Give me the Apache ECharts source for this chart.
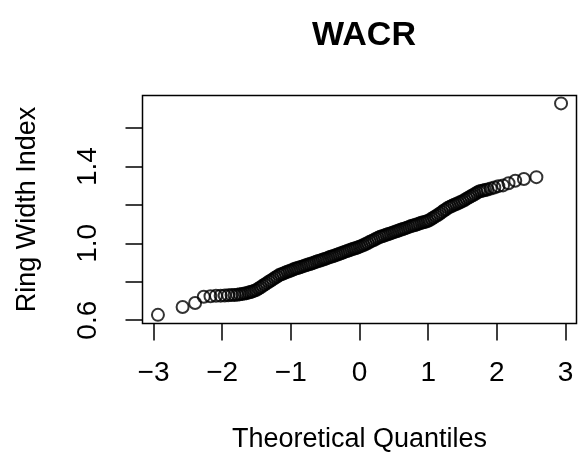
<!DOCTYPE html>
<html><head><meta charset="utf-8">
<script src="https://cdn.jsdelivr.net/npm/echarts@6/dist/echarts.min.js"></script>
<style>html,body{margin:0;padding:0;background:#fff}#c{width:581px;height:461px}</style>
</head><body><div id="c"></div>
<script>
const chartTitle = 'WACR';
const xName = 'Theoretical Quantiles';
const yName = 'Ring Width Index';
const xTicks = [-3, -2, -1, 0, 1, 2, 3];
const yTicks = [0.6, 0.8, 1.0, 1.2, 1.4, 1.6];
const yTickLabels = [0.6, 1.0, 1.4];

const qTheoretical = [
  -2.935, -2.576, -2.394, -2.268, -2.170, -2.090, -2.022, -1.963, -1.911, -1.863,
  -1.820, -1.780, -1.743, -1.708, -1.675, -1.645, -1.615, -1.587, -1.560, -1.530, -1.500,
  -1.47, -1.44, -1.41, -1.38, -1.35, -1.32, -1.29, -1.26, -1.23, -1.20, -1.17,
  -1.14, -1.11, -1.08, -1.05, -1.02, -0.99, -0.96, -0.93,
  -0.90, -0.87, -0.84, -0.81, -0.78, -0.75, -0.72, -0.69,
  -0.66, -0.63, -0.60, -0.57, -0.54, -0.51, -0.48, -0.45,
  -0.42, -0.39, -0.36, -0.33, -0.30, -0.27, -0.24, -0.21,
  -0.18, -0.15, -0.12, -0.09, -0.06, -0.03, 0.00, 0.03,
  0.06, 0.09, 0.12, 0.15, 0.18, 0.21, 0.24, 0.27,
  0.30, 0.33, 0.36, 0.39, 0.42, 0.45, 0.48, 0.51,
  0.54, 0.57, 0.60, 0.63, 0.66, 0.69, 0.72, 0.75,
  0.78, 0.81, 0.84, 0.87, 0.90, 0.93, 0.96, 0.99,
  1.02, 1.05, 1.08, 1.11, 1.14, 1.17, 1.20, 1.23, 1.26, 1.29,
  1.32, 1.35, 1.38, 1.41, 1.44, 1.47,
  1.50, 1.53, 1.56, 1.59, 1.62, 1.65, 1.68, 1.71, 1.74,
  1.77, 1.80, 1.83,
  1.863, 1.911, 1.963, 2.022, 2.090, 2.170, 2.268, 2.394, 2.576, 2.935
];
const ringWidth = [
  0.628, 0.669, 0.690, 0.722, 0.725, 0.727, 0.728, 0.729, 0.730, 0.731,
  0.732, 0.733, 0.735, 0.737, 0.739, 0.741, 0.744, 0.747, 0.750, 0.754, 0.758,
  0.765, 0.772, 0.779, 0.786, 0.793, 0.800, 0.807, 0.814, 0.821, 0.828, 0.835,
  0.839, 0.843, 0.848, 0.852, 0.856, 0.860, 0.865, 0.869,
  0.872, 0.876, 0.879, 0.883, 0.886, 0.890, 0.893, 0.897,
  0.900, 0.904, 0.908, 0.911, 0.915, 0.919, 0.922, 0.926,
  0.930, 0.933, 0.937, 0.941, 0.945, 0.949, 0.953, 0.957,
  0.960, 0.964, 0.968, 0.972, 0.975, 0.979, 0.983, 0.987,
  0.992, 0.997, 1.002, 1.008, 1.013, 1.018, 1.024, 1.029,
  1.034, 1.037, 1.041, 1.045, 1.049, 1.052, 1.056, 1.060,
  1.063, 1.067, 1.071, 1.075, 1.078, 1.082, 1.086, 1.090,
  1.093, 1.096, 1.100, 1.103, 1.107, 1.110, 1.113, 1.117,
  1.121, 1.128, 1.135, 1.142, 1.148, 1.156, 1.163, 1.171, 1.178, 1.186,
  1.191, 1.196, 1.201, 1.205, 1.210, 1.215,
  1.220, 1.226, 1.233, 1.239, 1.245, 1.251, 1.257, 1.264, 1.270,
  1.273, 1.275, 1.278,
  1.281, 1.286, 1.291, 1.298, 1.302, 1.313, 1.326, 1.335, 1.345, 1.729
];

const points = qTheoretical.map((q, i) => [q, ringWidth[i]]);
const FONT = '"Liberation Sans", Arial, Helvetica, sans-serif';

const chart = echarts.init(document.getElementById('c'), null, {renderer: 'canvas'});
chart.setOption({
  animation: false,
  backgroundColor: '#fff',
  title: {
    text: chartTitle,
    left: 359,
    top: 14,
    textAlign: 'center',
    textStyle: {fontFamily: FONT, fontSize: 34, fontWeight: 'bold', color: '#000'}
  },
  grid: {
    left: 142.5, right: 4.5, top: 95.5, bottom: 137.5,
    show: true, borderColor: '#000', borderWidth: 1.5, backgroundColor: 'transparent'
  },
  xAxis: {
    type: 'value', min: -3.16, max: 3.16,
    name: xName, nameLocation: 'middle', nameGap: 103,
    nameTextStyle: {fontFamily: FONT, fontSize: 27, color: '#000'},
    axisLine: {show: false, onZero: false},
    splitLine: {show: false},
    axisTick: {show: true, length: 17, customValues: xTicks, lineStyle: {color: '#000', width: 1.5}},
    axisLabel: {
      customValues: xTicks, margin: 36, fontFamily: FONT, fontSize: 28, color: '#000',
      formatter: v => String(v).replace('-', '\u2212')
    }
  },
  yAxis: {
    type: 'value', min: 0.583, max: 1.77,
    name: yName, nameLocation: 'middle', nameGap: 101, nameRotate: 90,
    nameTextStyle: {fontFamily: FONT, fontSize: 27, color: '#000'},
    axisLine: {show: false, onZero: false},
    splitLine: {show: false},
    axisTick: {show: true, length: 17, customValues: yTicks, lineStyle: {color: '#000', width: 1.5}},
    axisLabel: {
      customValues: yTickLabels, margin: 40, rotate: 90, fontFamily: FONT, fontSize: 28, color: '#000',
      formatter: v => v.toFixed(1)
    }
  },
  series: [{
    type: 'scatter',
    data: points,
    symbol: 'circle',
    symbolSize: 12,
    silent: true,
    itemStyle: {color: 'rgba(0,0,0,0)', borderColor: '#000', borderWidth: 2}
  }]
});
</script>
</body></html>
